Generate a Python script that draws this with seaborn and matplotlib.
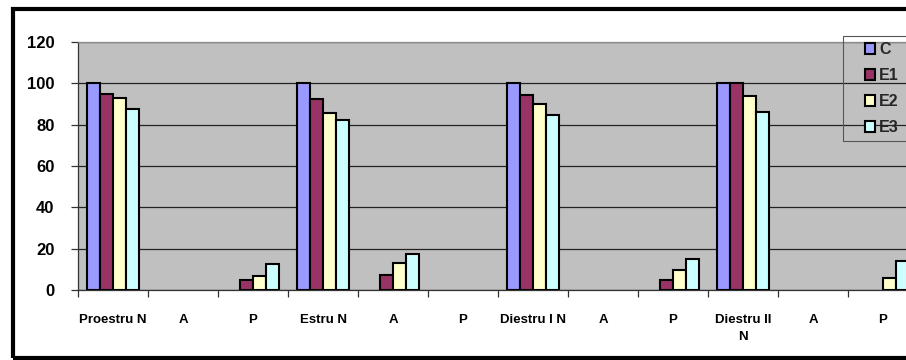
import matplotlib
matplotlib.use("Agg")
import matplotlib.pyplot as plt
import pandas as pd
import seaborn as sns
from matplotlib.patches import Rectangle
from matplotlib.ticker import FixedLocator, MultipleLocator

# Cycle phases (one key per bar group) and the labels printed under them
groups = ["Proestru N", "Proestru A", "Proestru P",
          "Estru N", "Estru A", "Estru P",
          "Diestru I N", "Diestru I A", "Diestru I P",
          "Diestru II N", "Diestru II A", "Diestru II P"]
tick_labels = ["Proestru N", "A", "P",
               "Estru N", "A", "P",
               "Diestru I N", "A", "P",
               "Diestru II\nN", "A", "P"]

series = ["C", "E1", "E2", "E3"]
c_vals = [100, 0, 0, 100, 0, 0, 100, 0, 0, 100, 0, 0]
e1_vals = [95, 0, 5, 92.5, 7.5, 0, 94.5, 0, 5, 100, 0, 0]
e2_vals = [93, 0, 7, 85.5, 13, 0, 90, 0, 9.5, 94, 0, 6]
e3_vals = [87.5, 0, 12.5, 82.5, 17.5, 0, 84.5, 0, 15, 86, 0, 14]

colors = {"C": "#9999FF", "E1": "#993366", "E2": "#FFFFCC", "E3": "#CCFFFF"}

rows = []
for name, vals in zip(series, [c_vals, e1_vals, e2_vals, e3_vals]):
    for g, v in zip(groups, vals):
        rows.append({"group": g, "series": name, "value": v})
df = pd.DataFrame(rows)

sns.set_style("white")
plt.rcParams["font.family"] = ["Liberation Sans", "DejaVu Sans"]

W, H = 906, 360
fig = plt.figure(figsize=(W / 100, H / 100), dpi=100)
fig.patch.set_facecolor("white")

# plot area runs past the right edge of the canvas
ax = fig.add_axes([78 / W, (H - 290) / H, 840 / W, 248 / H])
ax.set_facecolor("#C0C0C0")

sns.barplot(data=df, x="group", y="value", hue="series", order=groups,
            hue_order=series, palette=colors, width=0.74, dodge=True,
            edgecolor="black", linewidth=1.5, saturation=1, ax=ax,
            legend=True, zorder=3)

for p in ax.patches:
    if p.get_height() == 0:
        p.set_linewidth(0)

ax.set_xlim(-0.5, len(groups) - 0.5)
ax.set_ylim(0, 120)
ax.yaxis.set_major_locator(MultipleLocator(20))
ax.grid(axis="y", color="#222222", linewidth=0.9, zorder=0)
ax.set_axisbelow(True)

ax.set_xticks(range(len(groups)))
ax.set_xticklabels(tick_labels, fontsize=9.5, fontweight="bold",
                   linespacing=1.65)
ax.xaxis.set_minor_locator(FixedLocator([i - 0.5 for i in range(len(groups) + 1)]))
ax.tick_params(axis="x", which="major", length=0, pad=17, labelcolor="black")
ax.tick_params(axis="x", which="minor", length=5, width=0.9, color="#333333",
               direction="out", bottom=True)
ax.tick_params(axis="y", which="major", length=5, width=0.9, color="#333333",
               direction="out", left=True, labelsize=12, pad=12,
               labelcolor="black")
for lbl in ax.get_yticklabels():
    lbl.set_fontweight("bold")

ax.set_xlabel("")
ax.set_ylabel("")
ax.spines["left"].set_color("#333333")
ax.spines["bottom"].set_color("#333333")
ax.spines["top"].set_color("#8A8A8A")
ax.spines["right"].set_visible(False)
for s in ["left", "bottom", "top"]:
    ax.spines[s].set_linewidth(0.9)

handles, labels = ax.get_legend_handles_labels()
ax.legend_.remove()
leg = ax.legend(handles, labels, loc="upper left",
                bbox_to_anchor=(860 / W, (H - 37) / H),
                bbox_transform=fig.transFigure,
                frameon=False, handlelength=0.65, handleheight=0.65,
                handletextpad=0.25, labelspacing=0.7,
                borderpad=0.3, borderaxespad=0,
                prop={"weight": "bold", "size": 11.5, "family": "Liberation Sans"})
for h in leg.legend_handles:
    h.set_linewidth(1.5)
    h.set_edgecolor("black")

# legend box outline
fig.patches.append(Rectangle((843 / W, (H - 141) / H), 100 / W, 105 / H,
                             transform=fig.transFigure, fill=False,
                             edgecolor="#555555", linewidth=0.8, zorder=5))

# heavy outer frame of the chart object
fig.patches.append(Rectangle((13 / W, 2 / H), 1.2, (H - 11) / H,
                             transform=fig.transFigure, fill=False,
                             edgecolor="black", linewidth=3.0, zorder=10))

fig.savefig("out.png", dpi=100)
